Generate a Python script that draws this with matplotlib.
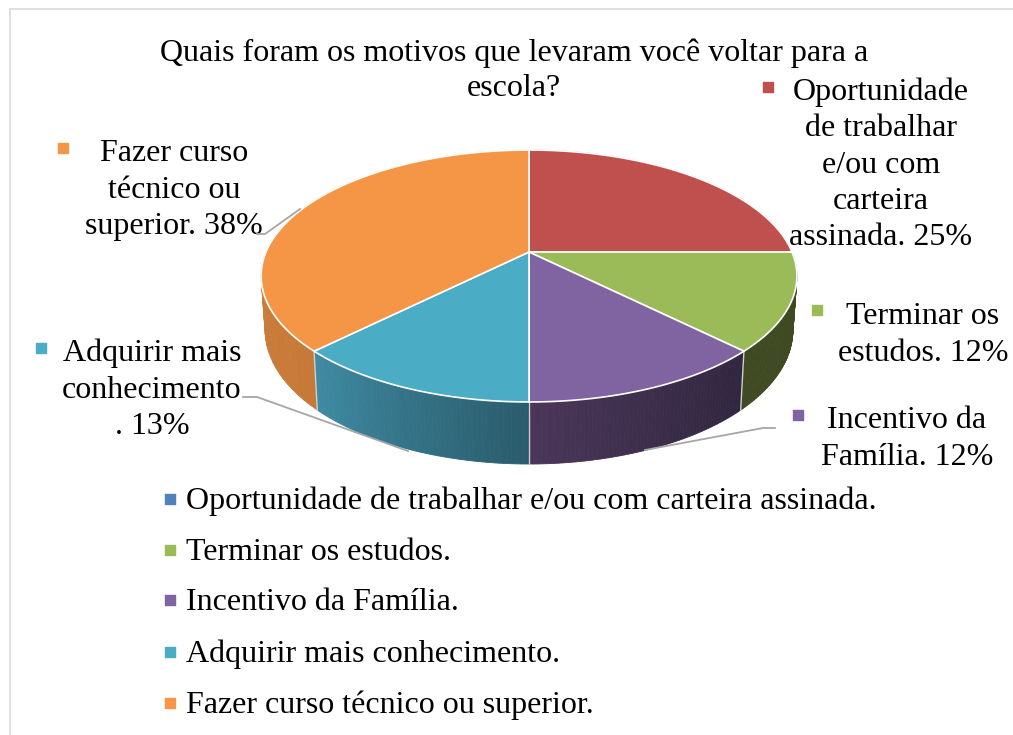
"""Perspective pie chart about the reasons for going back to school."""

import numpy as np
import matplotlib.pyplot as plt

TITLE = "Quais foram os motivos que levaram você voltar para a\nescola?"
CATEGORIES = [
    "Oportunidade de trabalhar e/ou com carteira assinada.",
    "Terminar os estudos.",
    "Incentivo da Família.",
    "Adquirir mais conhecimento.",
    "Fazer curso técnico ou superior.",
]
VALUES = [25, 12.5, 12.5, 12.5, 37.5]
SLICE_LABELS = [
    "Oportunidade\nde trabalhar\ne/ou com\ncarteira\nassinada. 25%",
    "Terminar os\nestudos. 12%",
    "Incentivo da\nFamília. 12%",
    "Adquirir mais\nconhecimento\n. 13%",
    "Fazer curso\ntécnico ou\nsuperior. 38%",
]

WIDTH, HEIGHT = 1013, 735
DPI = 100
FONT = "Liberation Serif"
FONT_SIZE = 23
LINE_SPACING = 1.33
TITLE_LINE_SPACING = 1.28

SLICE_COLORS = ["#BF504D", "#9BBB59", "#8064A2", "#4BACC6", "#F59646"]
WALL_START = ["#8a3a38", "#3f4a22", "#30263f", "#2a5c6c", "#c77a38"]
WALL_END = ["#8a3a38", "#3f4a22", "#4a3659", "#3f8ba3", "#d28742"]
LEGEND_COLORS = ["#4F81BD", "#9BBB59", "#8064A2", "#4BACC6", "#F79646"]

# Pie geometry in pixels: apex, projective squeeze and wall depth.
APEX = (529, 252)
RADIUS_X = 263
RADIUS_Y = 121.4
SQUEEZE = 0.1905
WALL_SCALE_X = 0.985
WALL_SCALE_Y = 1.063
WALL_DROP = 52.6

LABEL_CENTERS = [(881, 165), (923, 335), (907, 439), (152, 390), (174, 190)]
LABEL_MARKERS = [(768, 87), (817, 310), (798, 415), (41, 348), (63, 148)]
LEGEND_X = 170
LEGEND_TEXT_X = 186
LEGEND_Y = [499, 550, 600, 652, 703]
LEGEND_TEXT_SHIFT = 2
LEADERS = [
    ([257, 265, 300], [234, 234, 209]),
    ([243, 257, 408], [397, 397, 451]),
    ([775, 763, 645], [428, 428, 450]),
]


def rim_points(theta):
    """Return the rim offsets from the apex for angles clockwise from the top."""
    u, v = np.sin(theta), np.cos(theta)
    scale = 1 + SQUEEZE * v
    return RADIUS_X * u / scale, RADIUS_Y * v / scale


def blend(start, end, amount):
    """Return the colour a share of the way between two hex colours."""
    a = np.array(plt.matplotlib.colors.to_rgb(start))
    b = np.array(plt.matplotlib.colors.to_rgb(end))
    return tuple(a + (b - a) * amount)


def draw_walls(ax, edges):
    """Draw the shaded side of the pie, strip by strip."""
    for i in [0, 4, 1, 3, 2]:
        thetas = np.linspace(edges[i], edges[i + 1], 60)
        x, y = rim_points(thetas)
        top_x, top_y = APEX[0] + x, APEX[1] - y
        low_x = APEX[0] + x * WALL_SCALE_X
        low_y = APEX[1] - y * WALL_SCALE_Y + WALL_DROP
        for j in range(len(thetas) - 1):
            color = blend(WALL_START[i], WALL_END[i], j / (len(thetas) - 2))
            ax.fill(
                [top_x[j], top_x[j + 1], low_x[j + 1], low_x[j]],
                [top_y[j], top_y[j + 1], low_y[j + 1], low_y[j]],
                color=color,
                lw=0.6,
                zorder=2,
            )
        # Light seam on the wall where the slices meet.
        ax.plot(
            [top_x[0], low_x[0]],
            [top_y[0], low_y[0]],
            color="#d0d0d0",
            lw=1,
            zorder=3,
        )


def draw_top(ax, edges):
    """Draw the upper face of each slice."""
    for i, color in enumerate(SLICE_COLORS):
        thetas = np.linspace(edges[i], edges[i + 1], 120)
        x, y = rim_points(thetas)
        ax.fill(
            np.r_[APEX[0], APEX[0] + x],
            np.r_[APEX[1], APEX[1] - y],
            facecolor=color,
            edgecolor="white",
            lw=1.2,
            zorder=4,
        )


def main():
    plt.rcParams["font.family"] = [FONT, "DejaVu Serif"]
    fig = plt.figure(figsize=(WIDTH / DPI, HEIGHT / DPI), dpi=DPI)
    ax = fig.add_axes([0, 0, 1, 1])
    ax.set(xlim=(0, WIDTH), ylim=(HEIGHT, 0))
    ax.axis("off")

    # Chart frame, cut by the picture on the right and at the bottom.
    ax.plot([10, 10, WIDTH], [HEIGHT, 9, 9], color="#d9d9d9", lw=1.2)

    fractions = np.cumsum([0] + VALUES) / sum(VALUES)
    edges = fractions * 2 * np.pi
    draw_walls(ax, edges)
    draw_top(ax, edges)

    for xs, ys in LEADERS:
        ax.plot(xs, ys, color="#a6a6a6", lw=1.3, zorder=5)

    ax.text(
        514, 71, TITLE,
        ha="center", va="center", fontsize=FONT_SIZE,
        linespacing=TITLE_LINE_SPACING,
    )

    for i, label in enumerate(SLICE_LABELS):
        x, y = LABEL_CENTERS[i]
        ax.text(
            x, y, label,
            ha="center", va="center", fontsize=FONT_SIZE,
            linespacing=LINE_SPACING,
        )
        ax.scatter(*LABEL_MARKERS[i], marker="s", s=50, color=SLICE_COLORS[i])

    for i, category in enumerate(CATEGORIES):
        ax.scatter(LEGEND_X, LEGEND_Y[i], marker="s", s=50, color=LEGEND_COLORS[i])
        ax.text(
            LEGEND_TEXT_X, LEGEND_Y[i] + LEGEND_TEXT_SHIFT, category,
            ha="left", va="center", fontsize=FONT_SIZE,
        )

    fig.savefig("out.png", dpi=DPI)


if __name__ == "__main__":
    main()
